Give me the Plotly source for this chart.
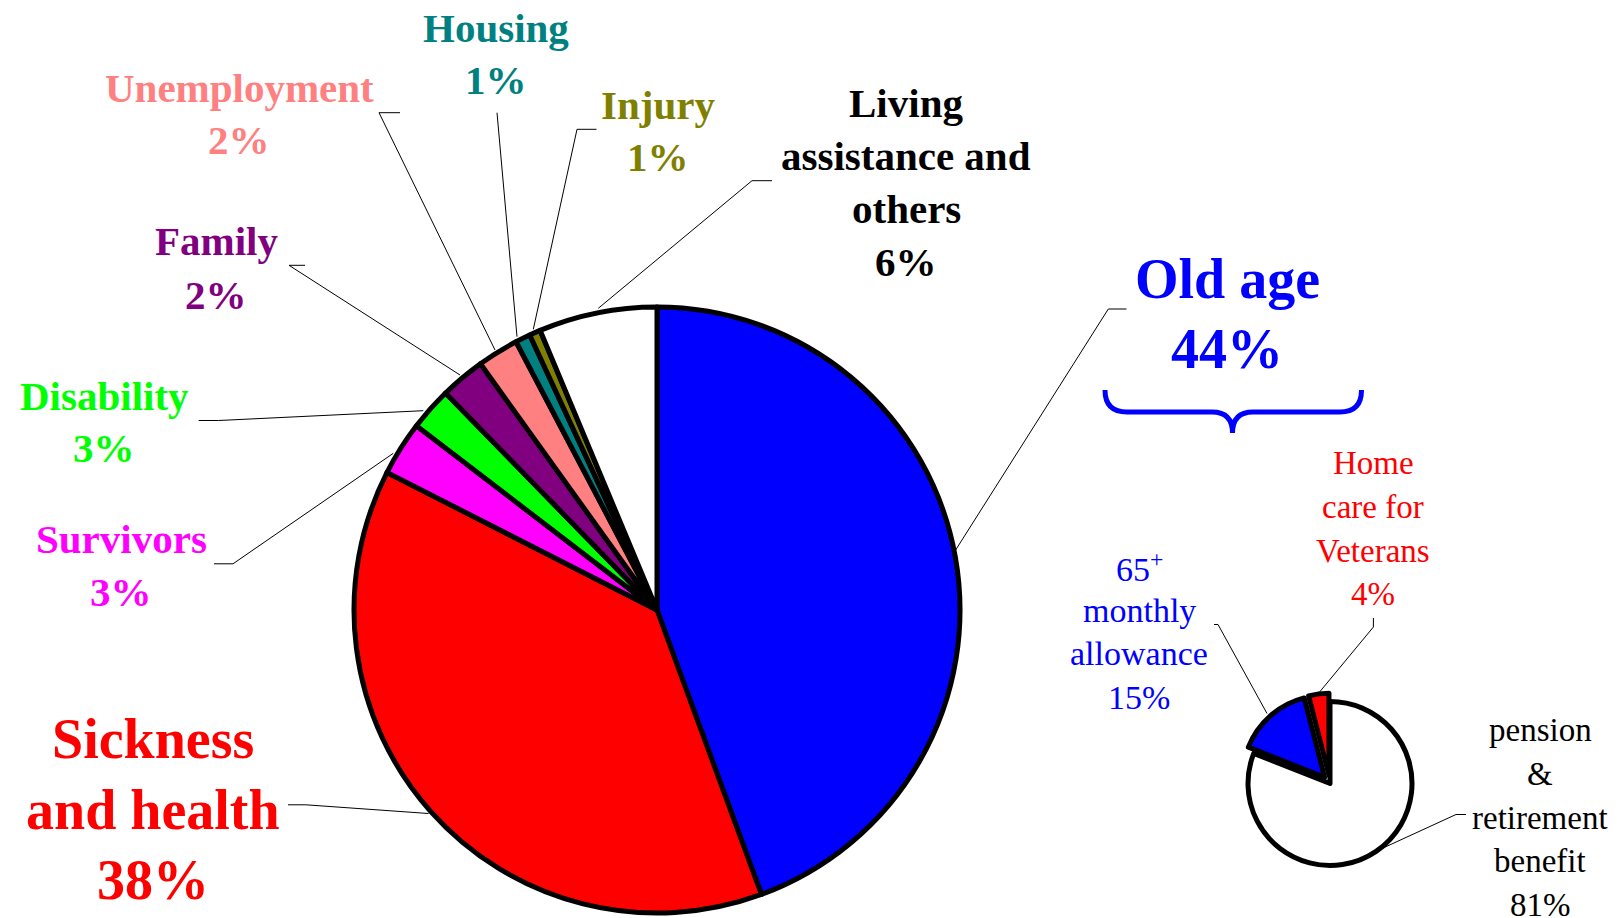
import plotly.graph_objects as go

W, H = 1621, 918

# ---- data ----
main_categories = ["Old age", "Sickness and health", "Survivors", "Disability", "Family",
                   "Unemployment", "Housing", "Injury", "Living assistance and others"]
main_values = [44.4, 38.1, 2.9, 2.3, 2.4, 2.2, 0.8, 0.6, 6.3]
main_pct_labels = ["44%", "38%", "3%", "3%", "2%", "2%", "1%", "1%", "6%"]
main_display = [["Old age"], ["Sickness", "and health"], ["Survivors"], ["Disability"], ["Family"],
                ["Unemployment"], ["Housing"], ["Injury"], ["Living", "assistance and", "others"]]
main_colors = ["#0000FF", "#FF0000", "#FF00FF", "#00FF00", "#800080",
               "#FF8080", "#008080", "#808000", "#FFFFFF"]
main_text_colors = ["#0000FF", "#FF0000", "#FF00FF", "#00FF00", "#800080",
                    "#FF8080", "#008080", "#808000", "#000000"]

old_categories = ["pension & retirement benefit", "65+ monthly allowance", "Home care for Veterans"]
old_values = [81, 15, 4]
old_pct_labels = ["81%", "15%", "4%"]
old_display = [["pension", "&", "retirement", "benefit"], ["65<sup>+</sup>", "monthly", "allowance"],
               ["Home", "care for", "Veterans"]]
old_colors = ["#FFFFFF", "#0000FF", "#FF0000"]
old_text_colors = ["#000000", "#0000FF", "#FF0000"]
old_pull = [0, 0.1, 0.1]


def px(x):
    return x / W


def py(y):
    return 1 - y / H


fig = go.Figure()

# main pie: centre (657, 610), radius 303
fig.add_trace(go.Pie(
    labels=main_categories, values=main_values, sort=False, direction="clockwise",
    rotation=0, textinfo="none", textposition="none", hoverinfo="skip",
    marker=dict(colors=main_colors, line=dict(color="black", width=5)),
    domain=dict(x=[px(354), px(960)], y=[py(913), py(307)]),
    showlegend=False,
))

# small pie: centre (1330, 783.5), radius 82
r2 = 82 * (1 + max(old_pull))
fig.add_trace(go.Pie(
    labels=old_categories, values=old_values, sort=False, direction="clockwise",
    rotation=0, textinfo="none", textposition="none", hoverinfo="skip", pull=old_pull,
    marker=dict(colors=old_colors, line=dict(color="black", width=5)),
    domain=dict(x=[px(1330 - r2), px(1330 + r2)], y=[py(783.5 + r2), py(783.5 - r2)]),
    showlegend=False,
))

# label layout: (centre x, centre y of block, font size, line spacing) in pixels
main_label_pos = [(1227, 314, 56, 69.5), (153, 809.5, 56, 70.5), (121, 565, 41, 53),
                  (104, 422, 41, 52.5), (216, 268, 41, 53), (239, 114, 41, 52),
                  (496, 54, 41, 52), (658, 131, 41, 51.5), (906, 182.7, 41, 53)]
old_label_pos = [(1540, 817.5, 33, 43.7), (1139, 632, 34, 43.5), (1373, 528.6, 33, 43.8)]

FONT = "Liberation Serif, Times New Roman, serif"
annotations = []


def add_block(lines, col, x, yc, fs, sp, bold):
    n = len(lines)
    for i, t in enumerate(lines):
        y = yc + (i - (n - 1) / 2) * sp
        annotations.append(dict(
            x=px(x), y=py(y), xref="paper", yref="paper", xanchor="center", yanchor="middle",
            text=(f"<b>{t}</b>" if bold else t), showarrow=False, align="center",
            font=dict(family=FONT, size=fs, color=col),
        ))


for disp, pct, col, (x, y, fs, sp) in zip(main_display, main_pct_labels, main_text_colors, main_label_pos):
    add_block(disp + [pct], col, x, y, fs, sp, True)
for disp, pct, col, (x, y, fs, sp) in zip(old_display, old_pct_labels, old_text_colors, old_label_pos):
    add_block(disp + [pct], col, x, y, fs, sp, False)

# leader lines (pixel polylines)
leaders = [
    [(400, 112.7), (379, 112.7), (495, 350)],          # Unemployment
    [(497, 112.7), (517, 336.7)],                       # Housing
    [(596.5, 129.3), (577, 129.3), (533.3, 329.3)],     # Injury
    [(772, 180.7), (752, 180.7), (598.3, 308.3)],       # Living
    [(305, 265.3), (289, 265.3), (460, 375)],           # Family
    [(198.7, 420.5), (218.7, 420.5), (423.3, 410.7)],   # Disability
    [(214, 563.8), (233, 563.8), (393.3, 453.3)],       # Survivors
    [(288, 804.8), (305.8, 804.8), (428.6, 813.5)],     # Sickness
    [(1126.5, 309), (1108.3, 309), (955, 551)],         # Old age
    [(1214, 624.5), (1218, 624.5), (1267, 713.5)],      # 65+
    [(1373.4, 618), (1373.4, 627), (1318.5, 693.3)],    # Home care
    [(1466, 814.5), (1456, 814.5), (1376.5, 851)],      # pension
]

shapes = []
for pts in leaders:
    path = "M " + " L ".join(f"{px(x)},{py(y)}" for x, y in pts)
    shapes.append(dict(type="path", path=path, xref="paper", yref="paper",
                       line=dict(color="black", width=1)))


def P(x, y):
    return f"{px(x)},{py(y)}"


# curly brace under "Old age 44%"
brace = (f"M {P(1105, 390)} Q {P(1105, 412)} {P(1127, 412)} L {P(1212, 412)} "
         f"Q {P(1232.5, 412)} {P(1232.5, 433)} Q {P(1232.5, 412)} {P(1253, 412)} "
         f"L {P(1340, 412)} Q {P(1361.5, 412)} {P(1361.5, 390)}")
shapes.append(dict(type="path", path=brace, xref="paper", yref="paper",
                   line=dict(color="#0000FF", width=5)))

fig.update_layout(
    width=W, height=H, autosize=False,
    margin=dict(l=0, r=0, t=0, b=0),
    paper_bgcolor="white", plot_bgcolor="white",
    annotations=annotations, shapes=shapes,
)

fig.write_html("out.html", config={"displayModeBar": False},
               post_script="document.body.style.margin='0';document.body.style.overflow='hidden';")
